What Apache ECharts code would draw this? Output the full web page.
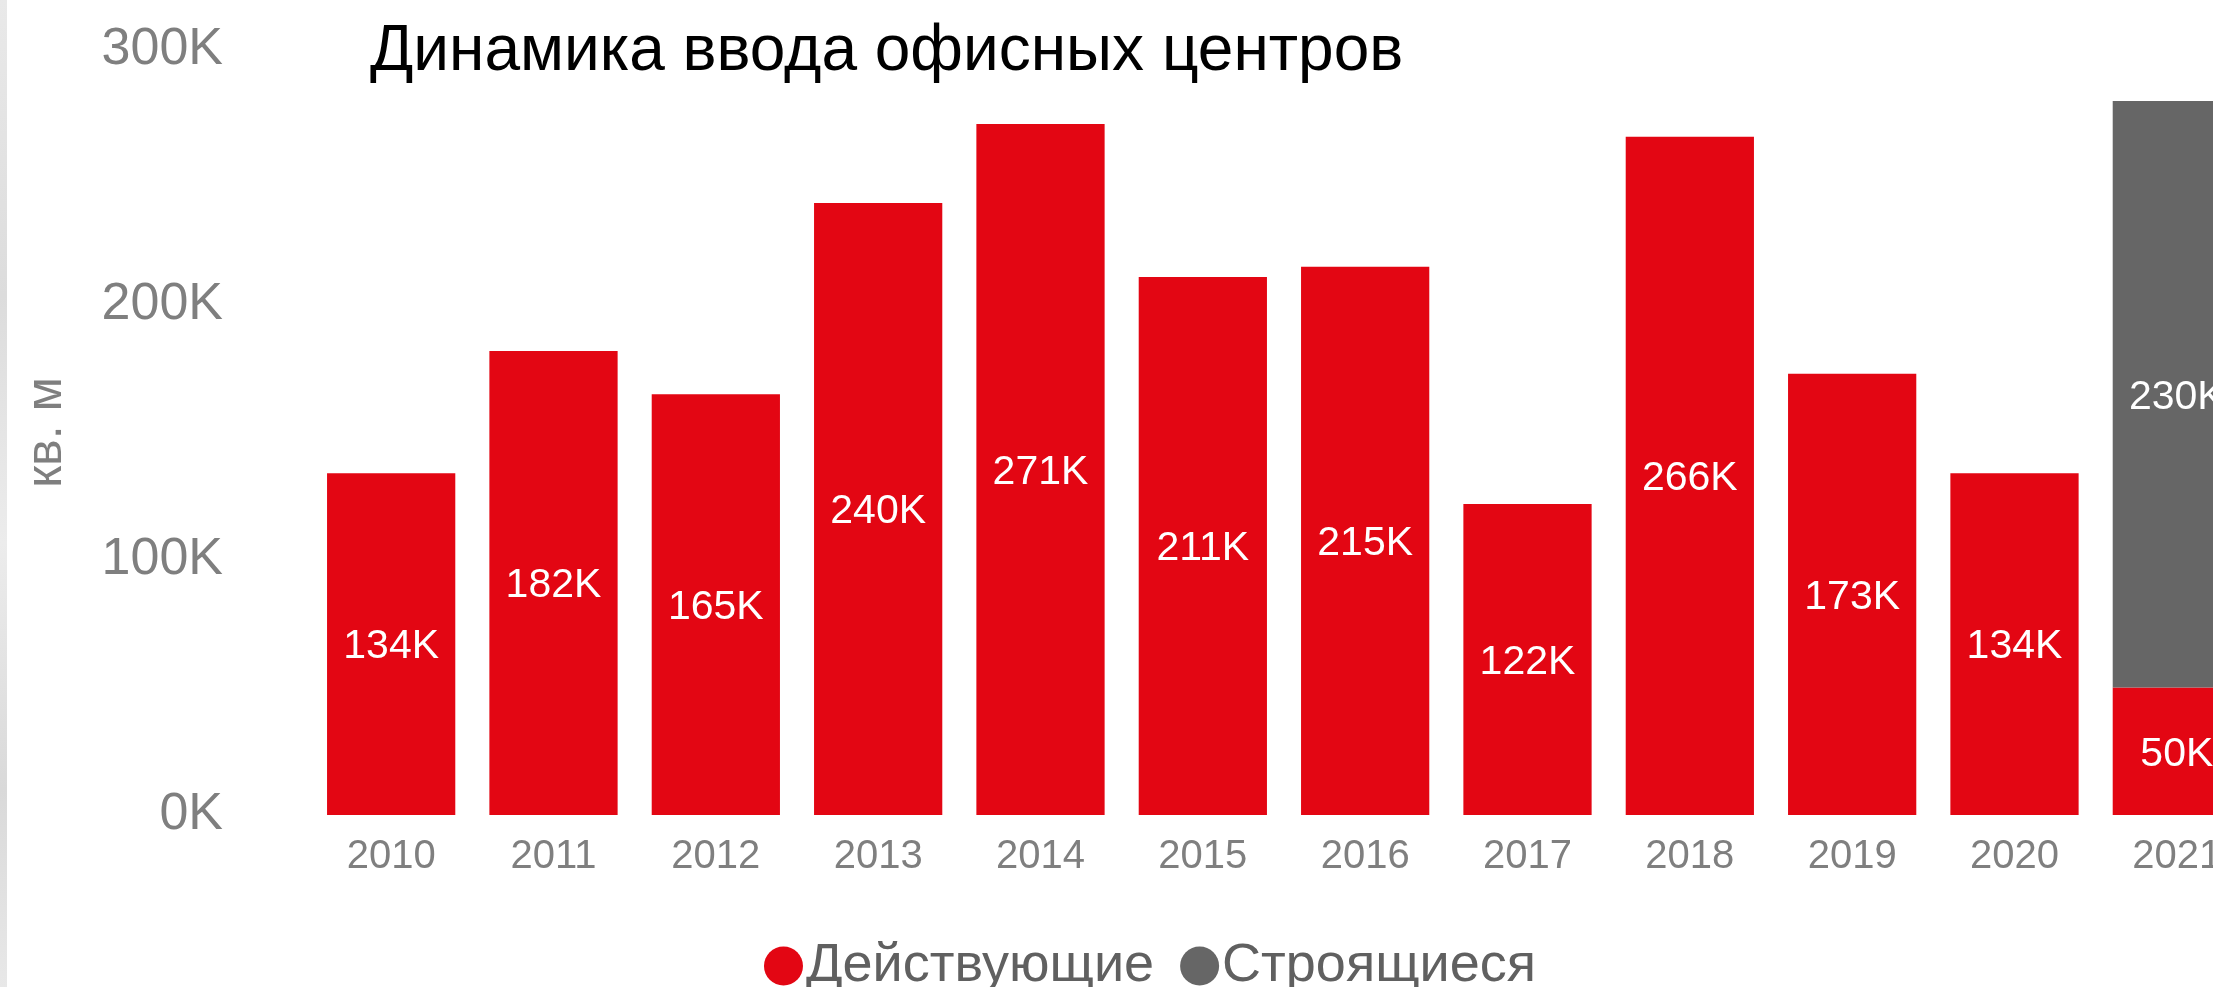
<!DOCTYPE html>
<html>
<head>
<meta charset="utf-8">
<script src="https://cdn.jsdelivr.net/npm/echarts@6/dist/echarts.min.js"></script>
<style>
  html, body { margin: 0; padding: 0; background: #fff; overflow: hidden; }
  #wrap { position: relative; width: 2213px; height: 987px; overflow: hidden; }
  #edge { position: absolute; left: 0; top: 0; width: 7px; height: 987px;
          background: linear-gradient(180deg, #e9e9e9, #dcdcdc 30%, #ececec 55%, #d9d9d9 80%, #e8e8e8); }
  #chart { position: absolute; left: 0; top: 0; width: 2300px; height: 987px; }
</style>
</head>
<body>
<div id="wrap">
  <div id="chart"></div>
  <div id="edge"></div>
</div>
<script>
// Office space completions by year, thousand sq. m
const years = ['2010', '2011', '2012', '2013', '2014', '2015', '2016', '2017', '2018', '2019', '2020', '2021'];
const operating = [134, 182, 165, 240, 271, 211, 215, 122, 266, 173, 134, 50];
const underConstruction = ['-', '-', '-', '-', '-', '-', '-', '-', '-', '-', '-', 230];
const yTicks = [0, 100, 200, 300];

const RED = '#E30613';
const GREY = '#666666';
const AXIS_GREY = '#7f7f7f';
const FONT = '"Liberation Sans", Arial, sans-serif';

const chart = echarts.init(document.getElementById('chart'), null, { renderer: 'canvas' });

const valueLabel = {
  show: true,
  position: 'inside',
  offset: [0, 3],
  color: '#ffffff',
  fontFamily: FONT,
  fontSize: 41,
  formatter: p => p.value + 'K'
};

chart.setOption({
  animation: false,
  textStyle: { fontFamily: FONT },
  title: {
    text: 'Динамика ввода офисных центров',
    left: 365,
    top: 15,
    textStyle: { color: '#000000', fontFamily: FONT, fontSize: 64, fontWeight: 'normal' }
  },
  legend: {
    data: ['Действующие', 'Строящиеся'],
    left: 'center',
    top: 934,
    icon: 'circle',
    itemWidth: 39,
    itemHeight: 39,
    itemGap: 26,
    textStyle: { color: '#606060', fontFamily: FONT, fontSize: 54, padding: [0, 0, 0, -2] }
  },
  grid: { left: 310, right: 42, top: 50, bottom: 172 },
  xAxis: {
    type: 'category',
    data: years,
    axisLine: { show: false },
    axisTick: { show: false },
    axisLabel: { color: AXIS_GREY, fontFamily: FONT, fontSize: 40, margin: 22 }
  },
  yAxis: {
    type: 'value',
    min: yTicks[0],
    max: yTicks[yTicks.length - 1],
    interval: yTicks[1] - yTicks[0],
    name: 'кв. м',
    nameLocation: 'middle',
    nameRotate: 90,
    nameGap: 238,
    nameTextStyle: { color: AXIS_GREY, fontFamily: FONT, fontSize: 50 },
    splitLine: { show: false },
    axisLine: { show: false },
    axisTick: { show: false },
    axisLabel: { color: AXIS_GREY, fontFamily: FONT, fontSize: 52, margin: 87, formatter: '{value}K' }
  },
  series: [
    {
      name: 'Действующие',
      type: 'bar',
      stack: 'total',
      data: operating,
      barWidth: '79%',
      itemStyle: { color: RED },
      label: valueLabel
    },
    {
      name: 'Строящиеся',
      type: 'bar',
      stack: 'total',
      data: underConstruction,
      barWidth: '79%',
      itemStyle: { color: GREY },
      label: valueLabel
    }
  ]
});
</script>
</body>
</html>
